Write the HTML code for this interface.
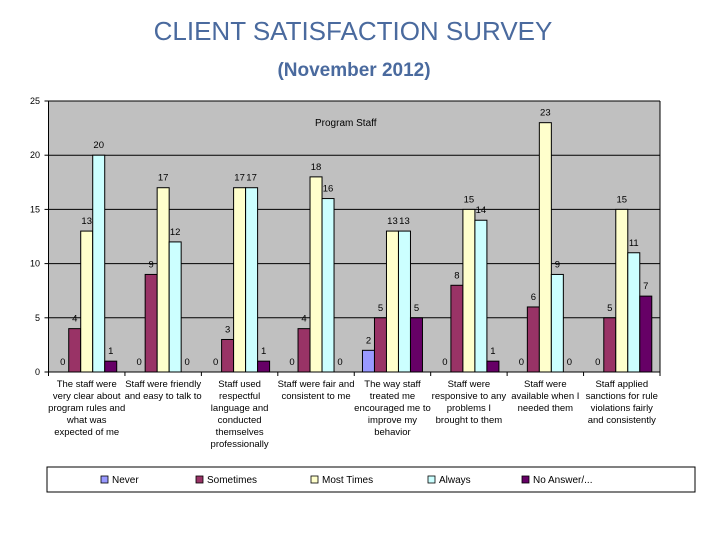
<!DOCTYPE html>
<html><head><meta charset="utf-8"><style>
body{margin:0;background:#fff;width:720px;height:540px;overflow:hidden;font-family:"Liberation Sans",sans-serif}
</style></head><body>
<svg width="720" height="540" xmlns="http://www.w3.org/2000/svg" font-family="Liberation Sans, sans-serif">
<text x="353" y="40" text-anchor="middle" font-size="26" fill="#4a6a9e">CLIENT SATISFACTION SURVEY</text>
<text x="354" y="76" text-anchor="middle" font-size="19" font-weight="bold" fill="#4a6a9e">(November 2012)</text>
<rect x="48.5" y="101" width="611.5" height="271" fill="#c0c0c0"/>
<g id="grid"></g><g id="bars"></g><g id="labels"></g><g id="axes"></g>
<text x="315" y="126" font-size="10" fill="#000">Program Staff</text>
<rect x="47" y="467" width="648" height="25" fill="#fff" stroke="#000" stroke-width="1"/>
<g id="legend"></g>
</svg>
<script>
const categories=[["The staff were","very clear about","program rules and","what was","expected of me"],["Staff were friendly","and easy to talk to"],["Staff used","respectful","language and","conducted","themselves","professionally"],["Staff were fair and","consistent to me"],["The way staff","treated me","encouraged me to","improve my","behavior"],["Staff were","responsive to any","problems I","brought to them"],["Staff were","available when I","needed them"],["Staff applied","sanctions for rule","violations fairly","and consistently"]];
const seriesNames=["Never","Sometimes","Most Times","Always","No Answer/..."];
const never=[0,0,0,0,2,0,0,0];
const sometimes=[4,9,3,4,5,8,6,5];
const mostTimes=[13,17,17,18,13,15,23,15];
const always=[20,12,17,16,13,14,9,11];
const noAnswer=[1,0,1,0,5,1,0,7];
const yTicks=[0,5,10,15,20,25];
const series=[never,sometimes,mostTimes,always,noAnswer];
const colors=["#9999ff","#993366","#ffffcc","#ccffff","#660066"];
const NS="http://www.w3.org/2000/svg";
const L=48.5,R=660,T=101,B=372,yMax=25;
const y=v=>B-(v/yMax)*(B-T);
const catW=(R-L)/categories.length,bw=12;
const x=(c,s)=>L+c*catW+(catW-bw*5)/2+s*bw;
function mk(tag,attrs,parent){const e=document.createElementNS(NS,tag);for(const k in attrs)e.setAttribute(k,attrs[k]);document.getElementById(parent).appendChild(e);return e;}
yTicks.forEach(t=>{
 if(t>0){const g=mk("line",{x1:L,x2:R,y1:y(t),y2:y(t),stroke:"#000","stroke-width":1},"grid");
 
 }
 const tx=mk("text",{x:40,y:y(t)+3,"text-anchor":"end","font-size":9},"axes");tx.textContent=t;
 
 
 mk("line",{x1:L-4,x2:L,y1:y(t),y2:y(t),stroke:"#000"},"axes");
});
mk("line",{x1:L,x2:L,y1:T,y2:B,stroke:"#000"},"axes");
mk("line",{x1:L,x2:R,y1:B,y2:B,stroke:"#000"},"axes");
mk("line",{x1:L,x2:R,y1:T,y2:T,stroke:"#000"},"axes");
mk("line",{x1:R,x2:R,y1:T,y2:B,stroke:"#000"},"axes");
categories.forEach((cat,c)=>{
 mk("line",{x1:L+c*catW,x2:L+c*catW,y1:B,y2:B+4,stroke:"#000"},"axes");
 cat.forEach((ln,i)=>{const t=mk("text",{x:L+c*catW+catW/2,y:B+15+i*12,"text-anchor":"middle","font-size":9.5},"axes");t.textContent=ln;
 
 });
 series.forEach((s,si)=>{
  const v=s[c];
  if(v>0){const r=mk("rect",{x:x(c,si),y:y(v),width:bw,height:B-y(v),fill:colors[si],stroke:"#000","stroke-width":1},"bars");
  
  }
  const lb=mk("text",{x:x(c,si)+bw/2,y:y(v)-7,"text-anchor":"middle","font-size":9.5},"labels");lb.textContent=v;
  
  
 });
});
mk("line",{x1:R,x2:R,y1:B,y2:B+4,stroke:"#000"},"axes");
const lx=[101,196,311,428,522];
seriesNames.forEach((n,i)=>{
 const r=mk("rect",{x:lx[i],y:476,width:7,height:7,fill:colors[i],stroke:"#000","stroke-width":0.8},"legend");
 
 
 const t=mk("text",{x:lx[i]+11,y:483,"font-size":10},"legend");t.textContent=n;
 
 
});
</script>
</body></html>
